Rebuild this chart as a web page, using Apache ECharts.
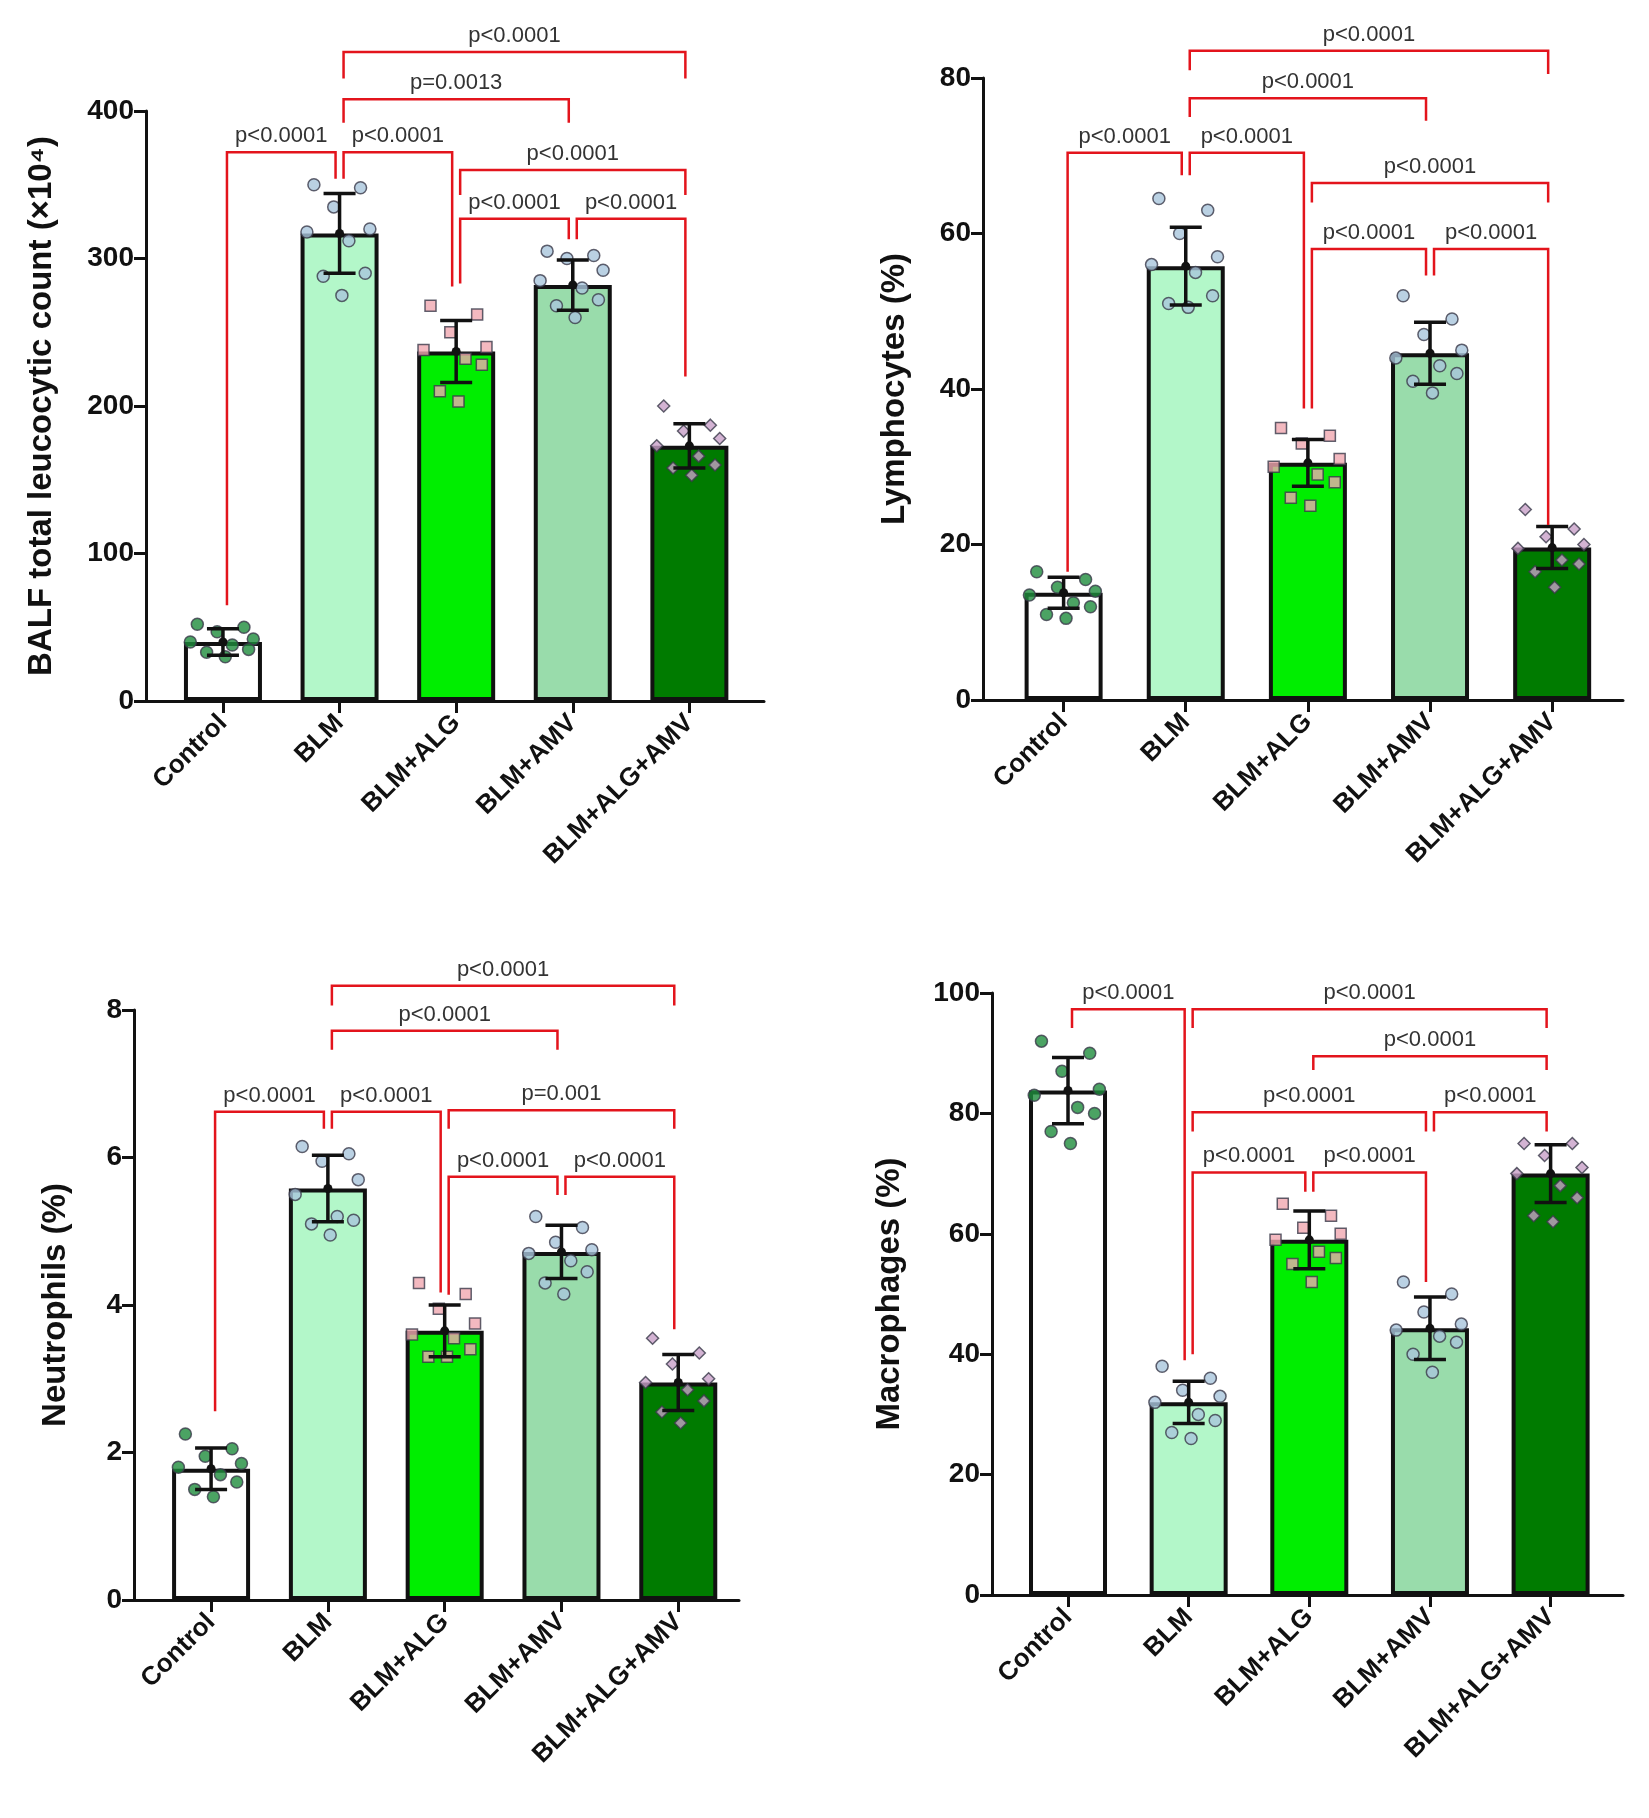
<!DOCTYPE html>
<html><head><meta charset="utf-8">
<script src="https://cdn.jsdelivr.net/npm/echarts@6/dist/echarts.min.js"></script>
<style>html,body{margin:0;background:#fff}#c{width:1649px;height:1818px}</style>
</head><body><div id="c"></div>
<script>
const categories = ["Control","BLM","BLM+ALG","BLM+AMV","BLM+ALG+AMV"];
const barColors = ["#ffffff","#b3f7c9","#00ee00","#99dcab","#007b00"];
const dotColors = ["#1e8c3c","#a9c6dc","#f0a8b0","#a9c6dc","#c8a0c8"];
const dotSymbols = ["circle","circle","rect","circle","diamond"];
const jitter = [-0.22,0.18,-0.05,0.26,-0.28,0.08,0.22,-0.14,0.02];

// Panel 1: BALF total leucocytic count
const balfMean = [40,317,237,282,173];
const balfSD = [9,27,21,17,15];
const balfDots = [
 [52,50,47,42,40,38,35,33,30],
 [350,348,335,320,318,312,290,288,275],
 [268,262,250,240,238,232,228,210,203],
 [305,302,300,292,285,280,272,268,260],
 [200,187,183,178,173,166,160,158,153]];
const balfBrackets = [[0,1,372,65,354],[1,2,372,354,281],[1,3,408,392,392],[1,4,440,422,422],[2,4,360,343,343],[2,3,327,283,313],[3,4,327,313,220]];
const balfP = ["p<0.0001","p<0.0001","p=0.0013","p<0.0001","p<0.0001","p<0.0001","p<0.0001"];

// Panel 2: Lymphocytes
const lymMean = [13.8,55.8,30.5,44.6,19.6];
const lymSD = [2,5,3,4,2.7];
const lymDots = [
 [16.5,15.5,14.5,14,13.5,12.5,12,11,10.5],
 [64.5,63,60,57,56,55,52,51,50.5],
 [35,34,33,31,30,29,28,26,25],
 [52,49,47,45,44,43,42,41,39.5],
 [24.5,22,21,20,19.5,18,17.5,16.5,14.5]];
const lymBrackets = [[0,1,70.4,16.5,67.5],[1,2,70.4,67.5,37.5],[1,3,77.4,75,74.5],[1,4,83.5,81,80.5],[2,4,66.5,64,64],[2,3,58,37.5,54.6],[3,4,58,54.6,22.5]];
const lymP = ["p<0.0001","p<0.0001","p<0.0001","p<0.0001","p<0.0001","p<0.0001","p<0.0001"];

// Panel 3: Neutrophils
const neuMean = [1.78,5.58,3.65,4.72,2.95];
const neuSD = [0.28,0.45,0.35,0.36,0.38];
const neuDots = [
 [2.25,2.05,1.95,1.85,1.8,1.7,1.6,1.5,1.4],
 [6.15,6.05,5.95,5.7,5.5,5.2,5.15,5.1,4.95],
 [4.3,4.15,3.95,3.75,3.6,3.55,3.4,3.3,3.3],
 [5.2,5.05,4.85,4.75,4.7,4.6,4.45,4.3,4.15],
 [3.55,3.35,3.2,3.0,2.95,2.85,2.7,2.55,2.4]];
const neuBrackets = [[0,1,6.62,2.56,6.39],[1,2,6.62,6.39,4.17],[1,3,7.72,7.46,7.46],[1,4,8.33,8.06,8.06],[2,4,6.64,6.39,6.39],[2,3,5.74,4.14,5.49],[3,4,5.74,5.49,3.67]];
const neuP = ["p<0.0001","p<0.0001","p<0.0001","p<0.0001","p=0.001","p<0.0001","p<0.0001"];

// Panel 4: Macrophages
const macMean = [83.8,32,59,44.3,70];
const macSD = [5.5,3.5,4.8,5.2,4.8];
const macDots = [
 [92,90,87,84,83,81,80,77,75],
 [38,36,34,33,32,30,29,27,26],
 [65,63,61,60,59,57,56,55,52],
 [52,50,47,45,44,43,42,40,37],
 [75,75,73,71,70,68,66,63,62]];
const macBrackets = [[0,1,97.3,94.2,39],[1,4,97.3,94.2,94.2],[2,4,89.5,87.2,87.2],[1,3,80.2,77,77],[3,4,80.2,77,77],[1,2,70.2,40,67],[2,3,70.2,67,52]];
const macP = ["p<0.0001","p<0.0001","p<0.0001","p<0.0001","p<0.0001","p<0.0001","p<0.0001"];

const panels = [
 {name:"BALF total leucocytic count (×10⁴)",mean:balfMean,sd:balfSD,dots:balfDots,br:balfBrackets,p:balfP,max:400,int:100,
  grid:{left:146,top:111,width:618,height:590},xmin:-0.66,xmax:4.64,gap:88},
 {name:"Lymphocytes (%)",mean:lymMean,sd:lymSD,dots:lymDots,br:lymBrackets,p:lymP,max:80,int:20,
  grid:{left:983,top:78,width:640,height:622},xmin:-0.66,xmax:4.58,gap:72},
 {name:"Neutrophils (%)",mean:neuMean,sd:neuSD,dots:neuDots,br:neuBrackets,p:neuP,max:8,int:2,
  grid:{left:134,top:1010,width:605,height:590},xmin:-0.66,xmax:4.52,gap:62},
 {name:"Macrophages (%)",mean:macMean,sd:macSD,dots:macDots,br:macBrackets,p:macP,max:100,int:20,
  grid:{left:992,top:993,width:631,height:602},xmin:-0.63,xmax:4.6,gap:86}
];

const grid=[],xAxis=[],yAxis=[],series=[];
const bold = {fontFamily:"Liberation Sans, Arial",fontWeight:"bold",color:"#111"};
panels.forEach((P,gi)=>{
  grid.push(P.grid);
  xAxis.push({type:"value",gridIndex:gi,min:P.xmin,max:P.xmax,splitLine:{show:false},
    axisLine:{onZero:false,lineStyle:{color:"#111",width:3}},
    axisTick:{customValues:[0,1,2,3,4],length:12,lineStyle:{width:3,color:"#111"}},
    axisLabel:{customValues:[0,1,2,3,4],formatter:v=>categories[Math.round(v)],rotate:45,fontSize:26,margin:18,...bold}});
  yAxis.push({type:"value",gridIndex:gi,min:0,max:P.max,interval:P.int,splitLine:{show:false},
    axisLine:{show:true,onZero:false,lineStyle:{color:"#111",width:3}},
    axisTick:{show:true,length:12,lineStyle:{width:3,color:"#111"}},
    axisLabel:{fontSize:28,margin:12,...bold},
    name:P.name,nameLocation:"middle",nameRotate:90,nameGap:P.gap,nameTextStyle:{fontSize:33,...bold}});
  series.push({type:"bar",xAxisIndex:gi,yAxisIndex:gi,barWidth:78,z:2,
    data:P.mean.map((v,i)=>({value:[i,v],itemStyle:{color:barColors[i]}})),
    itemStyle:{borderColor:"#111",borderWidth:4}});
  P.dots.forEach((arr,i)=>{
    series.push({type:"scatter",xAxisIndex:gi,yAxisIndex:gi,z:3,symbol:dotSymbols[i],symbolSize:dotSymbols[i]==="rect"?11:12,
      itemStyle:{color:dotColors[i],borderColor:"#3a3a4a",borderWidth:1.5},
      data:arr.map((v,k)=>[i+jitter[k],v])});
  });
  series.push({type:"custom",xAxisIndex:gi,yAxisIndex:gi,z:5,clip:false,
    data:P.mean.map((v,i)=>[i,v,P.sd[i]]),
    renderItem:(params,api)=>{
      const x=api.value(0),m=api.value(1),s=api.value(2);
      const a=api.coord([x,m+s]),b=api.coord([x,m-s]),c=api.coord([x,m]);
      const st={stroke:"#111",lineWidth:3.5};
      return {type:"group",children:[
        {type:"line",shape:{x1:a[0],y1:a[1],x2:b[0],y2:b[1]},style:st},
        {type:"line",shape:{x1:a[0]-16,y1:a[1],x2:a[0]+16,y2:a[1]},style:st},
        {type:"line",shape:{x1:b[0]-16,y1:b[1],x2:b[0]+16,y2:b[1]},style:st},
        {type:"circle",shape:{cx:c[0],cy:c[1],r:4.5},style:{fill:"#111"}}]};
    }});
  series.push({type:"custom",xAxisIndex:gi,yAxisIndex:gi,z:6,clip:false,
    data:P.br,
    renderItem:(params,api)=>{
      const x1=api.value(0),x2=api.value(1),t=api.value(2),l=api.value(3),r=api.value(4);
      const pl=api.coord([x1,l]),pt1=api.coord([x1,t]),pt2=api.coord([x2,t]),pr=api.coord([x2,r]);
      const lx=pl[0]+4,rx=pr[0]-4;
      return {type:"group",children:[
        {type:"polyline",shape:{points:[[lx,pl[1]],[lx,pt1[1]],[rx,pt2[1]],[rx,pr[1]]]},style:{stroke:"#e3141c",lineWidth:2.5,fill:null}},
        {type:"text",x:(lx+rx)/2,y:pt1[1]-5,style:{text:P.p[params.dataIndex],align:"center",verticalAlign:"bottom",fontSize:22,fontFamily:"Liberation Sans, Arial",fill:"#333"}}]};
    }});
});
const chart=echarts.init(document.getElementById("c"));
chart.setOption({animation:false,backgroundColor:"#fff",grid,xAxis,yAxis,series});
</script></body></html>
